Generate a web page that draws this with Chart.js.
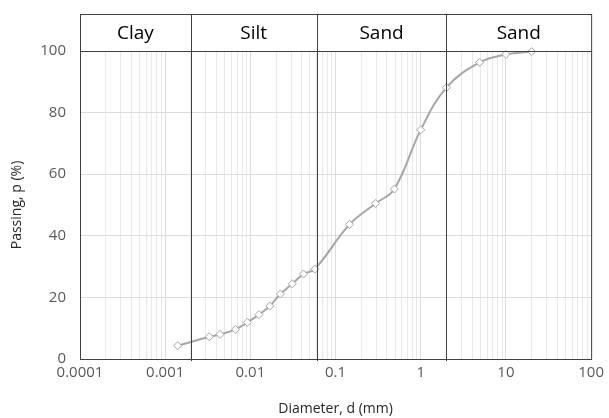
<!DOCTYPE html>
<html>
<head>
<meta charset="utf-8">
<script src="https://cdn.jsdelivr.net/npm/chart.js@4.4.1/dist/chart.umd.min.js"></script>
<style>
  html, body { margin: 0; padding: 0; background: #fff; }
  #wrap { width: 609px; height: 418px; }
</style>
</head>
<body>
<div id="wrap"><canvas id="psd" width="609" height="418"></canvas></div>
<script>
// grain size distribution
const diameters = [0.0014, 0.0033, 0.0044, 0.0067, 0.0092, 0.0126, 0.0169, 0.0225, 0.031, 0.042, 0.057, 0.146, 0.295, 0.49, 1.0, 2.0, 4.9, 10, 20];
const passing = [4.3, 7.2, 8.0, 9.6, 11.9, 14.4, 17.2, 21.1, 24.4, 27.6, 29.2, 43.7, 50.5, 55.2, 74.4, 88.1, 96.3, 98.9, 99.8];

// soil class bands on the header strip
const bandBounds = [0.0001, 0.002, 0.06, 2, 100];
const bandLabels = ['Clay', 'Silt', 'Sand', 'Sand'];

// x tick labels (decades) and y ticks
const decades = [0.0001, 0.001, 0.01, 0.1, 1, 10, 100];
const decadeLabels = ['0.0001', '0.001', '0.01', '0.1', '1', '10', '100'];
const yTicks = [0, 20, 40, 60, 80, 100];

// every 1..9 step inside each decade, for the light grid
const xTicks = [];
decades.forEach((d, i) => {
  if (i === decades.length - 1) { xTicks.push({ value: d, label: decadeLabels[i] }); return; }
  for (let k = 1; k <= 9; k++) {
    xTicks.push({ value: +(d * k).toPrecision(3), label: k === 1 ? decadeLabels[i] : '' });
  }
});

const lineCol = '#404040';
const tickCol = '#595959';
const HEADER_H = 37;

const bandPlugin = {
  id: 'bands',
  afterDraw(chart) {
    const { ctx, chartArea, scales } = chart;
    const x = scales.x;
    const top = chartArea.top - HEADER_H;
    ctx.save();
    ctx.strokeStyle = lineCol;
    ctx.lineWidth = 1;
    // header box and right border
    ctx.strokeRect(chartArea.left + 0.5, top + 0.5, chartArea.right - chartArea.left, HEADER_H);
    ctx.beginPath();
    ctx.moveTo(chartArea.right + 0.5, chartArea.top);
    ctx.lineTo(chartArea.right + 0.5, chartArea.bottom);
    ctx.stroke();
    // class boundaries
    for (let i = 1; i < bandBounds.length - 1; i++) {
      const px = Math.round(x.getPixelForValue(bandBounds[i])) + 0.5;
      ctx.beginPath();
      ctx.moveTo(px, top);
      ctx.lineTo(px, chartArea.bottom + 2);
      ctx.stroke();
    }
    ctx.fillStyle = '#000';
    ctx.font = '19px "Open Sans", sans-serif';
    ctx.textAlign = 'center';
    ctx.textBaseline = 'middle';
    for (let i = 0; i < bandLabels.length; i++) {
      const a = x.getPixelForValue(bandBounds[i]);
      const b = x.getPixelForValue(bandBounds[i + 1]);
      ctx.fillText(bandLabels[i], (a + b) / 2, top + HEADER_H / 2 + 1);
    }
    ctx.restore();
  }
};

new Chart(document.getElementById('psd'), {
  type: 'line',
  data: {
    datasets: [{
      data: diameters.map((d, i) => ({ x: d, y: passing[i] })),
      borderColor: '#a6a6a6',
      borderWidth: 2,
      tension: 0.4,
      pointStyle: 'rectRot',
      pointRadius: 4,
      pointBackgroundColor: '#fff',
      pointBorderColor: '#a6a6a6',
      pointBorderWidth: 1,
      clip: false
    }]
  },
  options: {
    responsive: false,
    animation: false,
    layout: { padding: { top: 51, right: 17, left: 0, bottom: 0 } },
    plugins: { legend: { display: false }, tooltip: { enabled: false } },
    scales: {
      x: {
        type: 'logarithmic',
        min: 0.0001,
        max: 100,
        afterBuildTicks: s => { s.ticks = xTicks.map(t => ({ value: t.value })); },
        afterFit: s => { s.height = 59; },
        ticks: {
          autoSkip: false,
          maxRotation: 0,
          color: tickCol,
          font: { family: '"Open Sans", sans-serif', size: 15 },
          padding: 5,
          callback: (v, i) => xTicks[i] ? xTicks[i].label : ''
        },
        grid: {
          color: c => (xTicks[c.index] && xTicks[c.index].label) ? '#dcdcdc' : '#e9e9e9',
          drawTicks: false
        },
        border: { color: lineCol, width: 1 },
        title: {
          display: true,
          text: 'Diameter, d (mm)',
          color: '#262626',
          font: { family: '"Open Sans", sans-serif', size: 14 },
          padding: { top: 0, bottom: 1 }
        }
      },
      y: {
        min: 0,
        max: 100,
        afterBuildTicks: s => { s.ticks = yTicks.map(v => ({ value: v })); },
        afterFit: s => { s.width = 80; },
        ticks: {
          color: tickCol,
          font: { family: '"Open Sans", sans-serif', size: 15 },
          padding: 14
        },
        grid: { color: '#dcdcdc', drawTicks: false },
        border: { color: lineCol, width: 1 },
        title: {
          display: true,
          text: 'Passing, p (%)',
          color: '#262626',
          font: { family: '"Open Sans", sans-serif', size: 14 },
          padding: { top: 9, bottom: 0 }
        }
      }
    }
  },
  plugins: [bandPlugin]
});
</script>
</body>
</html>
